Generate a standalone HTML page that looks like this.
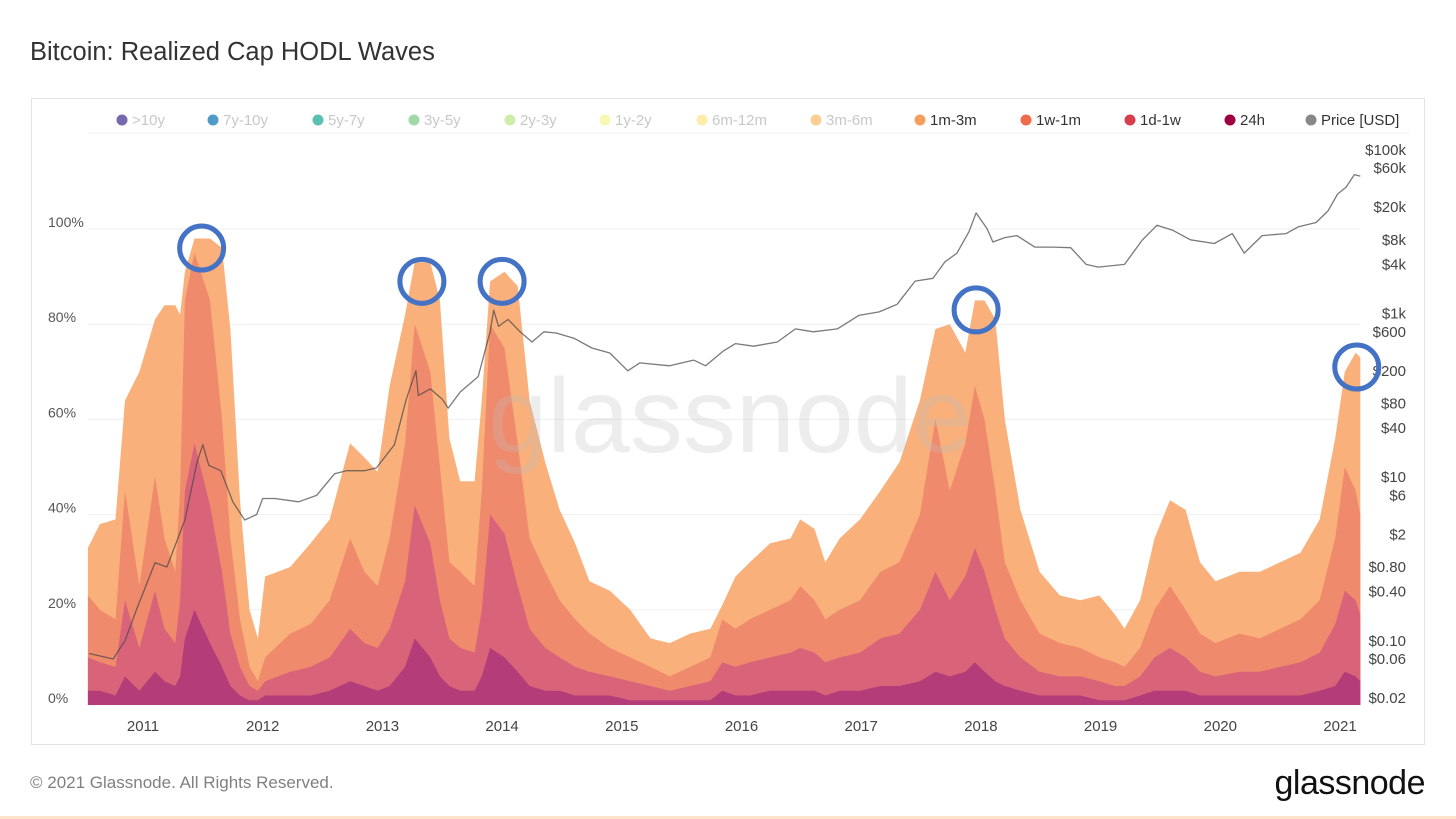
<!DOCTYPE html>
<html><head><meta charset="utf-8">
<style>
html,body{margin:0;padding:0;background:#fff;}
body{width:1456px;height:819px;position:relative;overflow:hidden;font-family:"Liberation Sans",sans-serif;}
</style></head>
<body>
<svg id="chart" width="1456" height="819" xmlns="http://www.w3.org/2000/svg" style="position:absolute;left:0;top:0">
<text x="30" y="60" font-size="25.5" fill="#333">Bitcoin: Realized Cap HODL Waves</text>
<rect x="31.5" y="98.5" width="1393" height="646" fill="none" stroke="#e3e3e3"/>
<g id="grid"></g>
<g id="bands"></g>
<text x="730" y="452" font-size="106" fill="rgba(190,190,190,0.28)" text-anchor="middle">glassnode</text>
<g id="price"></g>
<g id="axes"></g>
<g id="legend"></g>
<g id="circles"></g>
<text x="30" y="788" font-size="17" fill="#808080">© 2021 Glassnode. All Rights Reserved.</text>
<text x="1425" y="794" font-size="34" fill="#111" text-anchor="end" letter-spacing="-0.5">glassnode</text>
<rect x="0" y="816" width="1456" height="3" fill="#fde3c8"/>
</svg>
<script>
const dates=[2010.54,2010.64,2010.77,2010.85,2010.97,2011.10,2011.18,2011.27,2011.31,2011.35,2011.43,2011.56,2011.66,2011.73,2011.81,2011.89,2011.96,2012.02,2012.23,2012.40,2012.56,2012.73,2012.85,2012.96,2013.06,2013.19,2013.27,2013.40,2013.48,2013.56,2013.65,2013.77,2013.83,2013.90,2014.02,2014.13,2014.23,2014.36,2014.48,2014.61,2014.73,2014.90,2015.07,2015.24,2015.40,2015.57,2015.74,2015.84,2015.95,2016.07,2016.24,2016.41,2016.49,2016.61,2016.70,2016.82,2016.99,2017.16,2017.32,2017.49,2017.62,2017.74,2017.87,2017.95,2018.03,2018.12,2018.20,2018.33,2018.49,2018.66,2018.83,2018.99,2019.12,2019.20,2019.33,2019.45,2019.58,2019.71,2019.83,2019.96,2020.16,2020.33,2020.50,2020.67,2020.83,2020.96,2021.04,2021.13,2021.17];
// cumulative tops (%) of each band
const band1m3m=[33,38,39,64,70,81,84,84,82,91,98,98,96,79,43,20,14,27,29,34,39,55,52,49,67,82,93,93,85,56,47,47,64,89,91,88,64,51,41,34,26,24,20,14,13,15,16,21,27,30,34,35,39,37,30,35,39,45,51,64,79,80,74,85,85,81,60,41,28,23,22,23,19,16,22,35,43,41,30,26,28,28,30,32,39,56,70,74,73];
const band1w1m=[23,20,18,45,25,48,35,28,45,85,95,85,60,35,18,8,5,10,15,17,22,35,28,25,35,55,80,70,50,30,28,25,45,80,75,55,35,28,22,18,15,12,10,8,6,8,10,18,16,18,20,22,25,22,18,20,22,28,30,40,60,45,55,67,60,45,30,22,15,13,12,10,9,8,12,20,25,20,15,13,15,14,16,18,22,35,50,45,40];
const band1d1w=[10,9,8,22,12,24,16,13,22,45,55,42,28,15,8,4,3,5,7,8,10,16,13,12,16,26,42,34,22,14,12,11,20,40,36,25,16,12,10,8,7,6,5,4,3,4,5,9,8,9,10,11,12,11,9,10,11,14,15,20,28,22,27,33,28,20,14,10,7,6,6,5,4,4,6,10,12,10,7,6,7,7,8,9,11,17,24,22,19];
const band24h=[3,3,2,6,3,7,5,4,6,14,20,13,8,4,2,1,1,2,2,2,3,5,4,3,4,8,14,10,6,4,3,3,6,12,10,7,4,3,3,2,2,2,1,1,1,1,1,3,2,2,3,3,3,3,2,3,3,4,4,5,7,6,7,9,7,5,4,3,2,2,2,1,1,1,2,3,3,3,2,2,2,2,2,2,3,4,7,6,5];
const priceDates=[2010.55,2010.75,2010.85,2010.95,2011.1,2011.2,2011.35,2011.45,2011.5,2011.55,2011.65,2011.75,2011.85,2011.95,2012.0,2012.1,2012.3,2012.45,2012.6,2012.7,2012.85,2012.95,2013.1,2013.2,2013.28,2013.3,2013.4,2013.5,2013.55,2013.65,2013.8,2013.9,2013.93,2013.97,2014.05,2014.15,2014.25,2014.35,2014.45,2014.6,2014.75,2014.9,2015.05,2015.15,2015.4,2015.6,2015.7,2015.85,2015.95,2016.1,2016.3,2016.45,2016.6,2016.8,2016.98,2017.15,2017.3,2017.45,2017.6,2017.7,2017.8,2017.9,2017.96,2018.05,2018.1,2018.2,2018.3,2018.45,2018.6,2018.75,2018.88,2018.98,2019.2,2019.35,2019.47,2019.6,2019.75,2019.95,2020.1,2020.2,2020.35,2020.55,2020.65,2020.8,2020.9,2020.98,2021.05,2021.12,2021.17];
const priceValues=[0.07,0.06,0.1,0.25,0.9,0.8,3,15,25,14,12,5,3,3.5,5.5,5.5,5,6,11,12,12,13,25,90,200,100,120,90,70,110,170,600,1100,700,850,600,450,600,580,500,380,330,200,250,230,270,230,350,430,400,450,650,600,650,950,1050,1300,2500,2700,4300,5500,10000,17000,11000,7500,8500,9000,6500,6500,6400,4000,3700,4000,8000,12000,10500,8000,7200,9500,5500,9000,9500,11500,13000,18000,29000,35000,50000,48000];
const xTicks=[2011,2012,2013,2014,2015,2016,2017,2018,2019,2020,2021];
const yTicks=[0,20,40,60,80,100];
const priceTicks=[0.02,0.06,0.1,0.4,0.8,2,6,10,40,80,200,600,1000,4000,8000,20000,60000,100000];
const priceTickLabels=["$0.02","$0.06","$0.10","$0.40","$0.80","$2","$6","$10","$40","$80","$200","$600","$1k","$4k","$8k","$20k","$60k","$100k"];
const legendLabels=[">10y","7y-10y","5y-7y","3y-5y","2y-3y","1y-2y","6m-12m","3m-6m","1m-3m","1w-1m","1d-1w","24h","Price [USD]"];
const legendColors=["#5e4fa2","#3288bd","#3db5a6","#8fd19e","#c7ea9a","#f5f7a6","#fde99c","#fdc57c","#f7a05c","#ef6c4a","#d6404e","#9e0142","#888888"];
const legendActive=[0,0,0,0,0,0,0,0,1,1,1,1,1];
const legendX=[117,208,313,409,505,600,697,811,915,1021,1125,1225,1306];
const highlightDates=[2011.49,2013.33,2014.0,2017.96,2021.14];
const highlightPct=[96,89,89,83,71];

const NS="http://www.w3.org/2000/svg";
const X0=88,Y0=705,YPX=4.76;
const xs=d=>143+(d-2011)*119.7;
const ys=p=>Y0-p*YPX;
const yp=v=>698-(Math.log10(v)+1.69897)*81.8;
function mk(tag,attrs,parent){const e=document.createElementNS(NS,tag);for(const k in attrs)e.setAttribute(k,attrs[k]);parent.appendChild(e);return e;}

const grid=document.getElementById('grid'),axes=document.getElementById('axes');
yTicks.forEach(t=>{
  const l=mk('line',{x1:88,x2:1360,y1:ys(t),y2:ys(t),stroke:'#efefef'},grid);
  
  
  const tx=mk('text',{x:48,y:ys(t)-2,'font-size':14,fill:'#555'},axes);tx.textContent=t+'%';
  
  
});
xTicks.forEach(t=>{
  const tx=mk('text',{x:xs(t),y:731,'font-size':15,fill:'#444','text-anchor':'middle'},axes);tx.textContent=t;
  
  
});
priceTicks.forEach((v,i)=>{
  const tx=mk('text',{x:1406,y:yp(v)+5,'font-size':15,fill:'#444','text-anchor':'end'},axes);tx.textContent=priceTickLabels[i];
  
  
});

const bands=document.getElementById('bands');
const series=[[band1m3m,'#f9b07b','band-1m-3m'],[band1w1m,'#f08a6c','band-1w-1m'],[band1d1w,'#d9647a','band-1d-1w'],[band24h,'#b43c78','band-24h']];
series.forEach(([vals,col,name])=>{
  let d='M'+xs(dates[0])+','+Y0;
  vals.forEach((v,i)=>{d+=' L'+xs(dates[i]).toFixed(1)+','+ys(v).toFixed(1);});
  d+=' L'+xs(dates[dates.length-1])+','+Y0+' Z';
  const p=mk('path',{d:d,fill:col},bands);
  
  
});

const pr=document.getElementById('price');
let pd='';
priceValues.forEach((v,i)=>{pd+=(i?' L':'M')+xs(priceDates[i]).toFixed(1)+','+yp(v).toFixed(1);});
const pl=mk('path',{d:pd,fill:'none',stroke:'rgba(70,70,70,0.72)','stroke-width':1.3,'stroke-linejoin':'round'},pr);



const lg=document.getElementById('legend');
legendLabels.forEach((lab,i)=>{
  const g=mk('g',{},lg);
  
  
  mk('circle',{cx:legendX[i]+5,cy:120,r:5.5,fill:legendColors[i],opacity:legendActive[i]?1:0.85},g);
  const t=mk('text',{x:legendX[i]+15,y:125,'font-size':15,fill:legendActive[i]?'#333':'#c8c8c8'},g);t.textContent=lab;
});
mk('line',{x1:88,x2:1410,y1:133,y2:133,stroke:'#f2f2f2'},lg);

const cg=document.getElementById('circles');
highlightDates.forEach((d,i)=>{
  const c=mk('circle',{cx:xs(d),cy:ys(highlightPct[i]),r:22,fill:'none',stroke:'#4472c4','stroke-width':5},cg);
  
  
});
</script>
</body></html>
